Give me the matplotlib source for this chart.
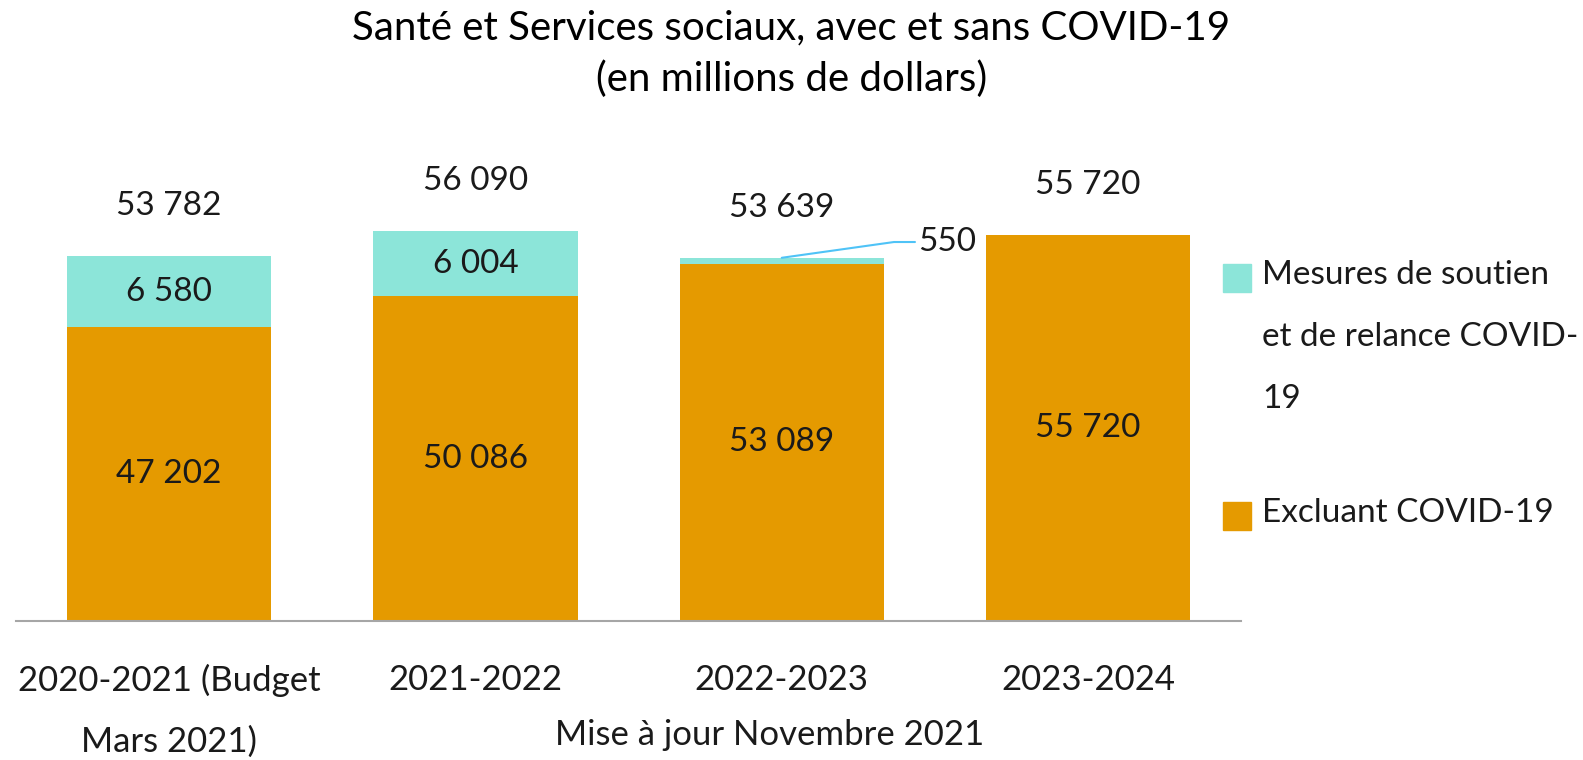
import matplotlib.pyplot as plt
from matplotlib.patches import Rectangle
from matplotlib.transforms import blended_transform_factory

plt.rcParams['font.family'] = ['Lato', 'DejaVu Sans']

# Data (millions de dollars)
categories = ["2020-2021 (Budget\nMars 2021)", "2021-2022", "2022-2023", "2023-2024"]
excluant = [47202, 50086, 53089, 55720]
covid = [6580, 6004, 550, 0]
totals = [53782, 56090, 53639, 55720]

teal = '#8CE5D9'
orange = '#E59A00'


def fmt(v):
    return f"{v:,}".replace(",", " ")


fig = plt.figure(figsize=(15.83, 7.6), dpi=100)
ax = fig.add_axes([0.0101, 0.183, 0.774, 0.62])

x = list(range(len(categories)))
ax.bar(x, [e - 20000 for e in excluant], bottom=20000, width=0.667, color=orange)
ax.bar(x, covid, bottom=excluant, width=0.667, color=teal)

ax.set_xlim(-0.5, 3.5)
ax.set_ylim(20000, 63650)

# segment labels
for i in x:
    ax.text(i, (20000 + excluant[i]) / 2, fmt(excluant[i]), ha='center', va='center', fontsize=24, color='#1a1a1a')
    if covid[i] > 1000:
        ax.text(i, excluant[i] + covid[i] / 2, fmt(covid[i]), ha='center', va='center', fontsize=24, color='#1a1a1a')
    ax.annotate(fmt(totals[i]), (i, totals[i]), xytext=(0, 36), textcoords='offset points',
                ha='center', va='center', fontsize=24, color='#1a1a1a')

# small covid value with leader line
i = 2
ax.annotate(fmt(covid[i]), xy=(i, excluant[i] + covid[i]), xytext=(2.444, 55100),
            ha='left', va='center', fontsize=24, color='#1a1a1a',
            arrowprops=dict(arrowstyle='-', color='#4FC3F7', lw=1.5,
                            connectionstyle='angle,angleA=0,angleB=8,rad=0',
                            shrinkA=0, shrinkB=0))

for s in ['top', 'right', 'left']:
    ax.spines[s].set_visible(False)
ax.spines['bottom'].set_color('#A6A6A6')
ax.spines['bottom'].set_linewidth(1.5)
ax.set_yticks([])
ax.set_xticks(x)
ax.set_xticklabels(categories, fontsize=25, color='#1a1a1a', linespacing=2.1, va='top')
ax.tick_params(axis='x', length=0, pad=31)

trans = blended_transform_factory(ax.transData, fig.transFigure)
ax.text(1.96, 1 - 735 / 760, "Mise à jour Novembre 2021", transform=trans,
        ha='center', va='center', fontsize=25, color='#1a1a1a')

# title
fig.text(0.5, 1 - 28 / 760, "Santé et Services sociaux, avec et sans COVID-19",
         ha='center', va='center', fontsize=29, color='black')
fig.text(0.5, 1 - 79 / 760, "(en millions de dollars)",
         ha='center', va='center', fontsize=29, color='black')

# legend (manual)
W, H = 1583, 760
legend_items = [
    (teal, ["Mesures de soutien", "et de relance COVID-", "19"], 278),
    (orange, ["Excluant COVID-19"], 516),
]
for color, lines, yc in legend_items:
    fig.patches.append(Rectangle((1223 / W, 1 - (yc + 14) / H), 28 / W, 28 / H,
                                 transform=fig.transFigure, color=color))
    for k, line in enumerate(lines):
        fig.text(1262 / W, 1 - (yc - 3 + 62 * k) / H, line, ha='left', va='center',
                 fontsize=24, color='#1a1a1a')

fig.savefig('out.png', dpi=100)
